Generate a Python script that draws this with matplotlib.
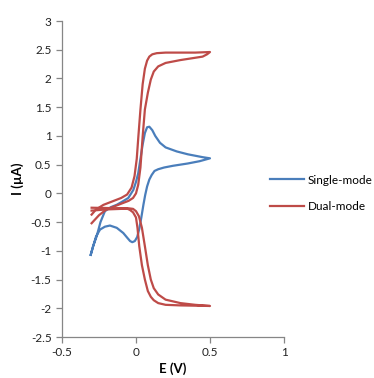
import matplotlib
matplotlib.use("Agg")
import matplotlib.pyplot as plt
from matplotlib.ticker import FuncFormatter

plt.rcParams['font.family'] = ['Lato', 'DejaVu Sans']

# Single-mode CV (blue): forward and reverse branches
single_fwd_E = [-0.306, -0.29, -0.266, -0.24, -0.21, -0.17, -0.131, -0.09, -0.052, -0.018, 0.0, 0.015,
                0.03, 0.045, 0.06, 0.075, 0.09, 0.11, 0.13, 0.162, 0.2, 0.275, 0.35, 0.41, 0.45, 0.5]
single_fwd_I = [-1.07, -0.92, -0.75, -0.5, -0.31, -0.24, -0.2, -0.14, -0.08, 0.06, 0.2, 0.35,
                0.6, 0.85, 1.05, 1.15, 1.16, 1.1, 1.0, 0.88, 0.8, 0.73, 0.68, 0.65, 0.63, 0.61]
single_rev_E = [0.5, 0.43, 0.35, 0.25, 0.19, 0.15, 0.125, 0.106, 0.09, 0.075, 0.062, 0.05, 0.036,
                0.022, 0.008, -0.008, -0.025, -0.04, -0.06, -0.086, -0.13, -0.176, -0.21, -0.243,
                -0.27, -0.306]
single_rev_I = [0.61, 0.56, 0.52, 0.48, 0.45, 0.42, 0.39, 0.32, 0.24, 0.12, -0.03, -0.2, -0.42,
                -0.62, -0.76, -0.83, -0.85, -0.83, -0.77, -0.69, -0.6, -0.56, -0.58, -0.63,
                -0.75, -1.07]

# Dual-mode CV (red): generator loop (top) and collector loop (bottom)
dual_gen_fwd_E = [-0.3, -0.27, -0.22, -0.15, -0.1, -0.06, -0.03, -0.01, 0.005, 0.016, 0.03, 0.045,
                  0.06, 0.075, 0.09, 0.11, 0.14, 0.2, 0.3, 0.4, 0.5]
dual_gen_fwd_I = [-0.37, -0.28, -0.2, -0.13, -0.08, -0.02, 0.1, 0.3, 0.6, 0.99, 1.46, 1.9,
                  2.17, 2.31, 2.38, 2.42, 2.44, 2.45, 2.45, 2.45, 2.46]
dual_gen_rev_E = [0.5, 0.48, 0.45, 0.4, 0.3, 0.2, 0.15, 0.12, 0.1, 0.08, 0.06, 0.045, 0.03, 0.015,
                  0.0, -0.02, -0.05, -0.1, -0.15, -0.2, -0.25, -0.3]
dual_gen_rev_I = [2.46, 2.42, 2.38, 2.36, 2.32, 2.27, 2.21, 2.12, 1.98, 1.75, 1.46, 0.99, 0.45, 0.15,
                  0.0, -0.08, -0.13, -0.18, -0.23, -0.28, -0.38, -0.52]
dual_col_fwd_E = [-0.3, -0.2, -0.1, -0.06, -0.04, -0.02, 0.0, 0.01, 0.022, 0.04, 0.06, 0.08, 0.1,
                  0.12, 0.15, 0.2, 0.3, 0.5]
dual_col_fwd_I = [-0.25, -0.255, -0.26, -0.265, -0.29, -0.33, -0.42, -0.6, -0.92, -1.25, -1.5, -1.7,
                  -1.8, -1.86, -1.91, -1.94, -1.95, -1.96]
dual_col_rev_E = [0.5, 0.4, 0.3, 0.2, 0.15, 0.12, 0.1, 0.08, 0.06, 0.04, 0.02, 0.0, -0.02, -0.05,
                  -0.1, -0.2, -0.3]
dual_col_rev_I = [-1.96, -1.94, -1.91, -1.85, -1.76, -1.65, -1.5, -1.25, -0.92, -0.6, -0.4, -0.31,
                  -0.27, -0.26, -0.27, -0.28, -0.3]

x_ticks = [-0.5, 0, 0.5, 1]
y_ticks = [-2.5, -2, -1.5, -1, -0.5, 0, 0.5, 1, 1.5, 2, 2.5, 3]

blue = '#4A7EBB'
red = '#BE4B48'
grey = '#868686'

fig = plt.figure(figsize=(3.74, 3.78), dpi=100)
ax = fig.add_axes([62/374, 1-337/378, (284-62)/374, (337-21)/378])

lw = 1.6
ax.plot(single_fwd_E + single_rev_E[1:], single_fwd_I + single_rev_I[1:], color=blue, lw=lw,
        solid_joinstyle='round', label='Single-mode')
ax.plot(dual_gen_fwd_E + dual_gen_rev_E[1:], dual_gen_fwd_I + dual_gen_rev_I[1:], color=red, lw=lw,
        solid_joinstyle='round', label='Dual-mode')
ax.plot(dual_col_fwd_E + dual_col_rev_E[1:], dual_col_fwd_I + dual_col_rev_I[1:], color=red, lw=lw,
        solid_joinstyle='round')

ax.set_xlim(-0.5, 1)
ax.set_ylim(-2.5, 3)
ax.set_xticks(x_ticks)
ax.set_yticks(y_ticks)
fmt = FuncFormatter(lambda v, p: ('%g' % v))
ax.xaxis.set_major_formatter(fmt)
ax.yaxis.set_major_formatter(fmt)

for s in ['top', 'right']:
    ax.spines[s].set_visible(False)
for s in ['left', 'bottom']:
    ax.spines[s].set_color(grey)
    ax.spines[s].set_linewidth(0.9)
ax.tick_params(axis='both', direction='out', length=4, width=0.9, color=grey,
               labelsize=8.5, labelcolor='#222222', pad=3.5)

ax.set_xlabel('E (V)', fontsize=9.5, fontweight='bold', labelpad=3)
ax.set_ylabel('I (µA)', fontsize=9.5, fontweight='bold', labelpad=5)

handles, labels = ax.get_legend_handles_labels()
fig.legend(handles, labels, loc='center left', bbox_to_anchor=(265/374, 1-193.5/378),
           frameon=False, fontsize=8.5, handlelength=2.9, handletextpad=0.35, labelspacing=1.35,
           borderaxespad=0)

fig.savefig('out.png', dpi=100)
